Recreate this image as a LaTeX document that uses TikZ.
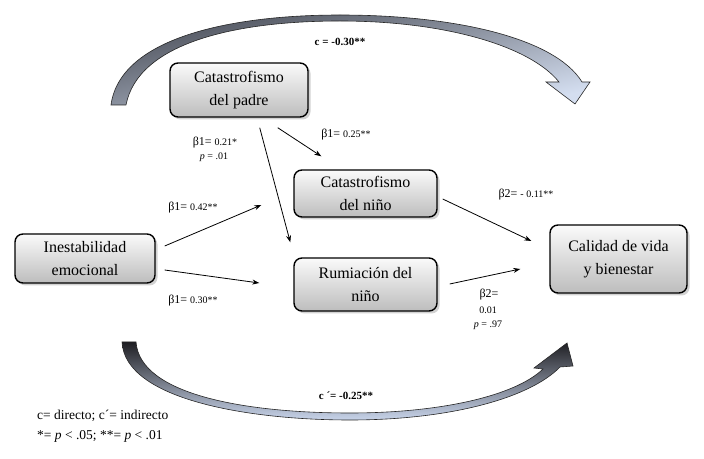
\documentclass[tikz,border=0pt]{standalone}
\usepackage{fontspec}
\setmainfont{Liberation Serif}
\usetikzlibrary{shadows,arrows.meta}
\definecolor{boxtop}{HTML}{FAFAFA}
\definecolor{boxbot}{HTML}{BDBDBD}
\definecolor{topD}{HTML}{4A4E58}
\definecolor{topM}{HTML}{A8B2C4}
\definecolor{topL}{HTML}{D4DEF0}
\definecolor{botT}{HTML}{1E1E22}
\definecolor{botB}{HTML}{C8D4EA}
\tikzset{
  varbox/.style={draw=black, line width=1.4pt, rounded corners=8pt, top color=boxtop, bottom color=boxbot,
    drop shadow={opacity=0.35, shadow xshift=2.5pt, shadow yshift=-2.5pt},
    align=center, font=\fontsize{16}{23}\selectfont, inner sep=0pt},
  arr/.style={line width=0.8pt, -{Stealth[length=7pt,width=5pt]}},
  lbl/.style={font=\fontsize{10}{11}\selectfont, inner sep=0pt},
  blbl/.style={font=\bfseries\fontsize{11}{13}\selectfont, inner sep=0pt},
  bigarrow/.style={draw=black!85, line width=0.6pt}
}
\newcommand{\bet}[2]{{\fontsize{12}{13}\selectfont β#1= }{\fontsize{10}{11}\selectfont #2}}
\begin{document}
\begin{tikzpicture}[x=1pt,y=1pt]
\useasboundingbox (0,0) rectangle (704,458);
\fill[white] (0,0) rectangle (704,458);
% top curved arrow (y = 458 - ypx)
\path[bigarrow, top color=topD, middle color=topM, bottom color=topL, shading angle=12]
  (111,353) .. controls (120,420) and (230,443) .. (340,443)
  .. controls (455,443) and (555,420) .. (582,376)
  -- (590,376) -- (575,354) -- (546,376) -- (559,376)
  .. controls (530,412) and (445,437) .. (340,437)
  .. controls (235,437) and (138,415) .. (126,353) -- cycle;
% bottom curved arrow
\path[bigarrow, top color=botT, bottom color=botB]
  (122,116) .. controls (125,58) and (250,38) .. (350,38)
  .. controls (450,38) and (530,60) .. (560,91)
  -- (573,92) -- (567,115) -- (534,90) -- (543,89)
  .. controls (515,62) and (440,45) .. (350,45)
  .. controls (250,45) and (140,62) .. (136,116) -- cycle;
% boxes
\node[varbox, minimum width=138pt, minimum height=54pt] (padre) at (239,368) {Catastrofismo\\del padre};
\node[varbox, minimum width=143pt, minimum height=47pt] (catn) at (365.5,264.5) {Catastrofismo\\del niño};
\node[varbox, minimum width=143pt, minimum height=53pt] (rum) at (365.5,173.5) {Rumiación del\\niño};
\node[varbox, minimum width=140pt, minimum height=49pt] (inest) at (85,199.5) {Inestabilidad\\emocional};
\node[varbox, minimum width=137pt, minimum height=68pt] (cal) at (618.5,199) {Calidad de vida\\y bienestar};
% connectors
\draw[arr] ([xshift=-31pt,yshift=-10pt]padre.south east) -- ([xshift=28pt,yshift=13pt]catn.north west);
\draw[arr] ([xshift=-49pt,yshift=-10pt]padre.south east) -- ([xshift=-3pt,yshift=15pt]rum.north west);
\draw[arr] ([xshift=9pt,yshift=12.5pt]inest.east) -- ([xshift=-32pt,yshift=-11.5pt]catn.west);
\draw[arr] ([xshift=9pt,yshift=-11.5pt]inest.east) -- ([xshift=-34pt,yshift=1.5pt]rum.west);
\draw[arr] ([xshift=5pt,yshift=-5.5pt]catn.east) -- ([xshift=-18pt,yshift=18pt]cal.west);
\draw[arr] ([xshift=12pt,yshift=0.5pt]rum.east) -- ([xshift=-29pt,yshift=-10pt]cal.west);
% labels
\node[lbl] (l1) at (215,315) {\bet{1}{0.21*}};
\node[lbl] (l1p) at (214,301) {\textit{p} = .01};
\node[lbl] (l2) at (346,323) {\bet{1}{0.25**}};
\node[lbl] (l3) at (193,250) {\bet{1}{0.42**}};
\node[lbl] (l4) at (193,157) {\bet{1}{0.30**}};
\node[lbl] (l5) at (526,263) {\bet{2}{- 0.11**}};
\node[lbl] (l6) at (489,163) {{\fontsize{12}{13}\selectfont β2=}};
\node[lbl] (l6b) at (488,148) {0.01};
\node[lbl] (l6c) at (488,133) {\textit{p} = .97};
\node[blbl] (c1) at (340,416) {c = -0.30**};
\node[blbl] (c2) at (346,62) {c ´= -0.25**};
\node[anchor=west, inner sep=0pt, font=\fontsize{13.5}{16}\selectfont] (leg1) at (37,42) {c= directo; c´= indirecto};
\node[anchor=west, inner sep=0pt, font=\fontsize{13.5}{16}\selectfont] (leg2) at (37,22) {*= \textit{p} < .05; **= \textit{p} < .01};
\end{tikzpicture}
\end{document}
